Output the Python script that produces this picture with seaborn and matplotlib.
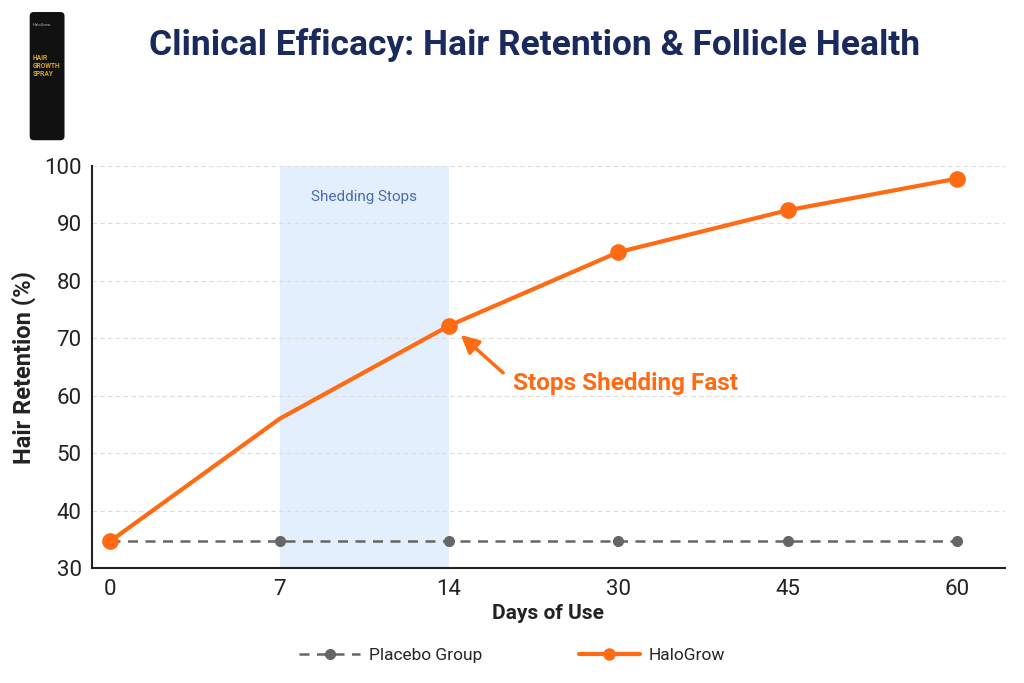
import numpy as np
import pandas as pd
import matplotlib
matplotlib.use("Agg")
import matplotlib.pyplot as plt
from matplotlib.lines import Line2D
from matplotlib.patches import FancyBboxPatch
import seaborn as sns

# data
days = ["0", "7", "14", "30", "45", "60"]
halogrow = [34.7, 56.0, 72.2, 85.0, 92.3, 97.8]
placebo = [34.7, 34.7, 34.7, 34.7, 34.7, 34.7]
halogrow_marked = [0, 2, 3, 4, 5]   # no dot at day 7 in the original
band_days = ["7", "14"]

orange = "#ff6a13"
grey = "#666666"
navy = "#1b2a5c"

sns.set_theme(style="white")
plt.rcParams["font.family"] = ["Roboto", "DejaVu Sans"]

df = pd.DataFrame({"pos": np.arange(len(days)), "halo": halogrow, "placebo": placebo})

fig = plt.figure(figsize=(10.24, 6.83), dpi=100)
ax = fig.add_axes([0.09, 0.168, 0.891, 0.589])

# shaded window
b0, b1 = days.index(band_days[0]), days.index(band_days[1])
ax.axvspan(b0, b1, color="#e3effc", zorder=0, lw=0)
ax.text((b0 + b1) / 2, 94.6, "Shedding Stops", ha="center", va="center",
        fontsize=11, color="#4a6bb0")

sns.lineplot(data=df, x="pos", y="placebo", ax=ax, color=grey, lw=1.8,
             linestyle=(0, (4, 3)), marker="o", markersize=8, markeredgewidth=0)
sns.lineplot(data=df, x="pos", y="halo", ax=ax, color=orange, lw=3,
             marker="o", markersize=12, markeredgewidth=0, markevery=halogrow_marked)

ax.set_xlim(-0.106, 5.28)
ax.set_ylim(30, 100)
ax.set_xticks(df["pos"])
ax.set_xticklabels(days)
ax.set_yticks(range(30, 101, 10))
ax.tick_params(axis="both", labelsize=16, colors="#222222", length=4, width=1.2)
ax.yaxis.grid(True, linestyle=(0, (4, 3)), color="#dddddd", lw=0.8)
ax.set_axisbelow(True)
sns.despine(ax=ax)
for s in ["left", "bottom"]:
    ax.spines[s].set_color("#222222")
    ax.spines[s].set_linewidth(1.5)

ax.set_xlabel("Days of Use", fontsize=15, fontweight="bold", color="#222222", labelpad=3)
ax.set_ylabel("Hair Retention (%)", fontsize=17, fontweight="bold", color="#222222", labelpad=6)

# callout
peak = days.index("14")
ax.annotate("", xy=(peak + 0.07, 70.6), xytext=(peak + 0.32, 64.0),
            arrowprops=dict(arrowstyle="-|>,head_length=0.9,head_width=0.45",
                            color=orange, lw=2.5, shrinkA=0, shrinkB=0))
ax.text(peak + 0.38, 62.2, "Stops Shedding Fast", fontsize=17.5, fontweight="bold",
        color=orange, ha="left", va="center")

fig.text(0.522, 0.934, "Clinical Efficacy: Hair Retention & Follicle Health",
         ha="center", va="center", fontsize=25.5, fontweight="bold", color=navy)

# little product bottle in the corner
lax = fig.add_axes([0.0, 0.78, 0.1, 0.22])
lax.set_xlim(0, 100)
lax.set_ylim(0, 150)
lax.axis("off")
lax.add_patch(FancyBboxPatch((29, 10), 34, 128, boxstyle="round,pad=0,rounding_size=4",
                             fc="#111111", ec="none"))
lax.text(32, 84, "HAIR\nGROWTH\nSPRAY", fontsize=4.8, fontweight="bold", color="#e0a526",
         ha="left", va="center", linespacing=1.0)
lax.text(32, 125, "HaloGrow", fontsize=3, color="#bbbbbb", ha="left", va="center")

handles = [
    Line2D([], [], color=grey, lw=1.8, linestyle=(0, (4, 3)), marker="o",
           markersize=8, markeredgewidth=0),
    Line2D([], [], color=orange, lw=3, marker="o", markersize=9, markeredgewidth=0),
]
fig.legend(handles, ["Placebo Group", "HaloGrow"], loc="center", bbox_to_anchor=(0.5, 0.04),
           ncol=2, frameon=False, fontsize=12.5, handlelength=3.5, handletextpad=0.5,
           columnspacing=5.6)

fig.savefig("out.png", dpi=100, facecolor="white")
